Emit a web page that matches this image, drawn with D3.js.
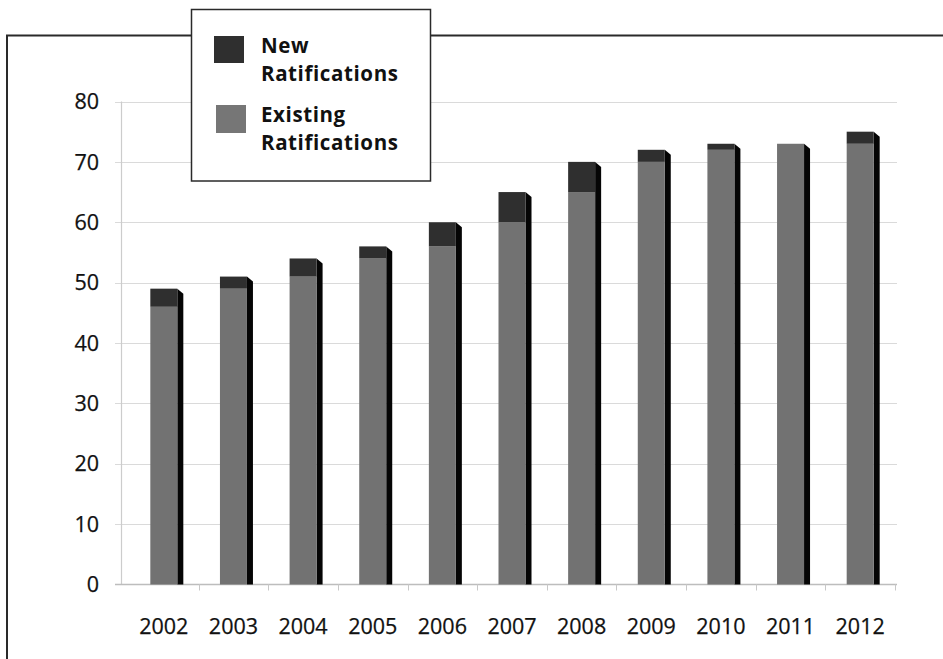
<!DOCTYPE html>
<html>
<head>
<meta charset="utf-8">
<script src="https://cdn.jsdelivr.net/npm/d3@7"></script>
<style>
  html, body { margin: 0; padding: 0; background: #fff; }
  svg { display: block; }
</style>
</head>
<body>
<svg id="chart" width="943" height="659"></svg>
<script>
// ---- data ----
const years = ["2002","2003","2004","2005","2006","2007","2008","2009","2010","2011","2012"];
const existingRatifications = [46, 49, 51, 54, 56, 60, 65, 70, 72, 73, 73];
const totalRatifications    = [49, 51, 54, 56, 60, 65, 70, 72, 73, 73, 75];
const yTicks = [0, 10, 20, 30, 40, 50, 60, 70, 80];
const legendLabels = [["New", "Ratifications"], ["Existing", "Ratifications"]];

const svg = d3.select("#chart");
const font = "'Open Sans', 'DejaVu Sans', sans-serif";

const colNew = "#2f2f2f";
const colExisting = "#727272";
const colShadow = "#050505";

const x = d3.scaleBand().domain(years).range([129, 895]).padding(0);
const y = d3.scaleLinear().domain([0, 80]).range([584.5, 101.5]);

// outer frame (top and left only)
svg.append("path")
  .attr("d", "M7,659 L7,35.5 L943,35.5")
  .attr("fill", "none").attr("stroke", "#2a2a2a").attr("stroke-width", 2);

// gridlines
svg.append("g").selectAll("line").data(yTicks.filter(d => d > 0)).join("line")
  .attr("x1", 115).attr("x2", 897)
  .attr("y1", d => Math.round(y(d)) + 0.5).attr("y2", d => Math.round(y(d)) + 0.5)
  .attr("stroke", "#dadada").attr("stroke-width", 1.2);

// y axis line
svg.append("line").attr("x1", 121.5).attr("x2", 121.5).attr("y1", y(80)).attr("y2", y(0))
  .attr("stroke", "#cccccc").attr("stroke-width", 1.2);

// x axis line
svg.append("line").attr("x1", 115).attr("x2", 897).attr("y1", y(0)).attr("y2", y(0))
  .attr("stroke", "#bdbdbd").attr("stroke-width", 1.4);

// x category boundary ticks
const bounds = years.map(d => x(d)).concat([x.range()[1]]).slice(1);
svg.append("g").selectAll("line").data(bounds).join("line")
  .attr("x1", d => Math.round(d) + 0.5).attr("x2", d => Math.round(d) + 0.5)
  .attr("y1", y(0)).attr("y2", y(0) + 6)
  .attr("stroke", "#c8c8c8").attr("stroke-width", 1);

// y tick labels
svg.append("g").selectAll("text").data(yTicks).join("text")
  .attr("x", 99).attr("y", d => y(d))
  .attr("dy", "0.36em")
  .attr("text-anchor", "end")
  .attr("font-family", font).attr("font-size", 21.5).attr("fill", "#111")
  .attr("stroke", "#111").attr("stroke-width", 0.25)
  .text(d => d);

// x tick labels
svg.append("g").selectAll("text").data(years).join("text")
  .attr("x", d => x(d) + x.bandwidth() / 2)
  .attr("y", 634)
  .attr("text-anchor", "middle")
  .attr("font-family", font).attr("font-size", 21.5).attr("fill", "#111")
  .attr("stroke", "#111").attr("stroke-width", 0.25)
  .text(d => d);

// bars
const barW = 27, shW = 6, shDrop = 5;
const bars = svg.append("g").selectAll("g").data(years).join("g");
bars.each(function(yr, i) {
  const g = d3.select(this);
  const cx = x(yr) + x.bandwidth() / 2;
  const left = cx - barW / 2, right = cx + barW / 2;
  const top = y(totalRatifications[i]);
  const mid = y(existingRatifications[i]);
  const base = y(0);
  // shadow / depth
  g.append("path")
    .attr("d", `M${right},${top} L${right + shW},${top + shDrop} L${right + shW},${base} L${right},${base} Z`)
    .attr("fill", colShadow);
  // existing
  g.append("rect").attr("x", left).attr("width", barW)
    .attr("y", mid).attr("height", base - mid).attr("fill", colExisting);
  // new
  g.append("rect").attr("x", left).attr("width", barW)
    .attr("y", top).attr("height", Math.max(0, mid - top)).attr("fill", colNew);
});

// legend
svg.append("rect").attr("x", 191.5).attr("y", 9.5).attr("width", 239).attr("height", 171.5)
  .attr("fill", "#fff").attr("stroke", "#2a2a2a").attr("stroke-width", 1.5);
svg.append("rect").attr("x", 214).attr("y", 36).attr("width", 30).attr("height", 27).attr("fill", colNew);
svg.append("rect").attr("x", 216).attr("y", 105).attr("width", 30).attr("height", 28).attr("fill", "#767676");
const legendFirstBaselines = [53, 122];
legendLabels.forEach((lines, k) => {
  const t = svg.append("text")
    .attr("x", 261).attr("y", legendFirstBaselines[k])
    .attr("font-family", font).attr("font-weight", "bold").attr("font-size", 20.5)
    .attr("letter-spacing", 0.6)
    .attr("fill", "#111");
  lines.forEach((s, j) => {
    t.append("tspan").attr("x", 261).attr("dy", j === 0 ? 0 : 28).text(s);
  });
});
</script>
</body>
</html>
